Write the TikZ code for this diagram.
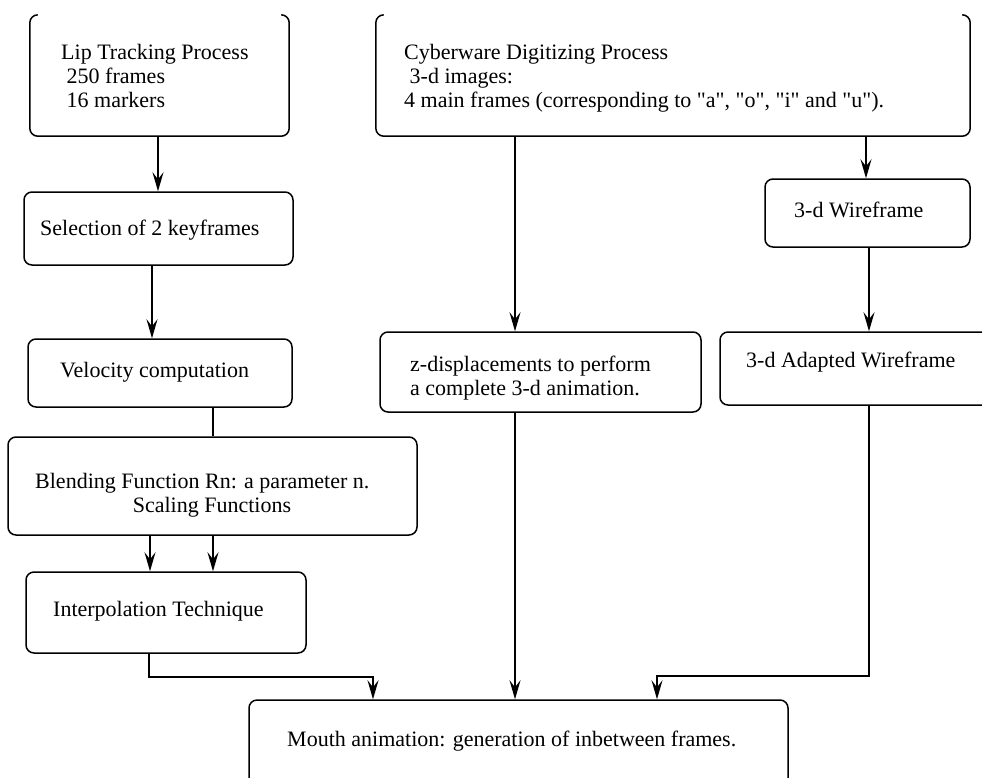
\documentclass[tikz,border=0pt]{standalone}
\usepackage{fontspec}
\setmainfont{Liberation Serif}
\usetikzlibrary{arrows.meta}

\begin{document}
\begin{tikzpicture}[x=1pt,y=-1pt,
  box/.style={draw, line width=1.5pt, rounded corners=8pt, inner sep=0pt},
  ghost/.style={inner sep=0pt},
  txt/.style={inner sep=0pt, anchor=base west, align=left,
    font=\fontsize{22}{24}\selectfont},
  link/.style={line width=1.5pt},
  arr/.style={line width=1.5pt, -{Stealth[length=19pt, width=11pt, inset=7pt]}}]

\useasboundingbox (0,0) rectangle (982,777);
\fill[white] (0,0) rectangle (982,777);
\clip (0,0) rectangle (982,777);

% boxes, given by their corners (left, top) and (right, bottom)
\newcommand{\mkbox}[6]{%
  \node[#1, minimum width={#5-#3}, minimum height={#6-#4}]
    (#2) at ({(#3+#5)/2},{(#4+#6)/2}) {};}

\mkbox{ghost}{lip}{30}{15}{289}{136}
\mkbox{ghost}{cyb}{376}{15}{970}{136}
\mkbox{box}{sel}{24}{192}{293}{265}
\mkbox{box}{wire}{765}{179}{970}{247}
\mkbox{box}{vel}{28}{339}{292}{407}
\mkbox{box}{zd}{380}{332}{701}{412}
\mkbox{box}{adapt}{720}{332}{1010}{405}
\mkbox{box}{blend}{8}{437}{417}{535}
\mkbox{box}{interp}{26}{572}{306}{653}
\mkbox{box}{mouth}{249}{700}{788}{820}

% the two source boxes have no top edge, only the rounded top corners
\foreach \b in {lip,cyb}
  \draw[line width=1.5pt, rounded corners=8pt]
    ([xshift=8pt]\b.north west) -- (\b.north west) -- (\b.south west)
    -- (\b.south east) -- (\b.north east) -- ([xshift=-8pt]\b.north east);

% texts (multi-line texts are placed by the baseline of their last line)
\newcommand{\qq}[1]{\textquotedbl#1\textquotedbl}
\node[txt] (t-lip) at (61,107) {Lip Tracking Process\\\ 250 frames\\\ 16 markers};
\node[txt] (t-cyb) at (404,107) {Cyberware Digitizing Process\\\ 3-d images:\\4 main frames (corresponding to \qq{a}, \qq{o}, \qq{i} and \qq{u}).};
\node[txt] (t-sel) at (40,235) {Selection of 2 keyframes};
\node[txt] (t-wire) at (794,217) {3-d Wireframe};
\node[txt] (t-vel) at (60,377) {Velocity computation};
\node[txt] (t-zd) at (410,395) {z-displacements to perform\\a complete 3-d animation.};
\node[txt] (t-adapt) at (746,367) {3-d Adapted Wireframe};
\node[txt] (t-blend) at (35,488) {Blending Function Rn: a parameter n.};
\node[txt, anchor=base] (t-scal) at (212,512) {Scaling Functions};
\node[txt] (t-interp) at (53,616) {Interpolation Technique};
\node[txt] (t-mouth) at (287,746) {Mouth animation: generation of inbetween frames.};

% connectors
\draw[arr] (158,0 |- lip.south) -- (158,0 |- sel.north);
\draw[arr] (152,0 |- sel.south) -- (152,0 |- vel.north);
\draw[link] (213,0 |- vel.south) -- (213,0 |- blend.north);
\draw[arr] (150,0 |- blend.south) -- (150,0 |- interp.north);
\draw[arr] (213,0 |- blend.south) -- (213,0 |- interp.north);
\draw[arr] (515,0 |- cyb.south) -- (515,0 |- zd.north);
\draw[arr] (866,0 |- cyb.south) -- (866,0 |- wire.north);
\draw[arr] (869,0 |- wire.south) -- (869,0 |- adapt.north);
\draw[arr] (149,0 |- interp.south) -- (149,677) -- (373,677) -- (373,0 |- mouth.north);
\draw[arr] (515,0 |- zd.south) -- (515,0 |- mouth.north);
\draw[arr] (869,0 |- adapt.south) -- (869,676) -- (657,676) -- (657,0 |- mouth.north);
\end{tikzpicture}
\end{document}
